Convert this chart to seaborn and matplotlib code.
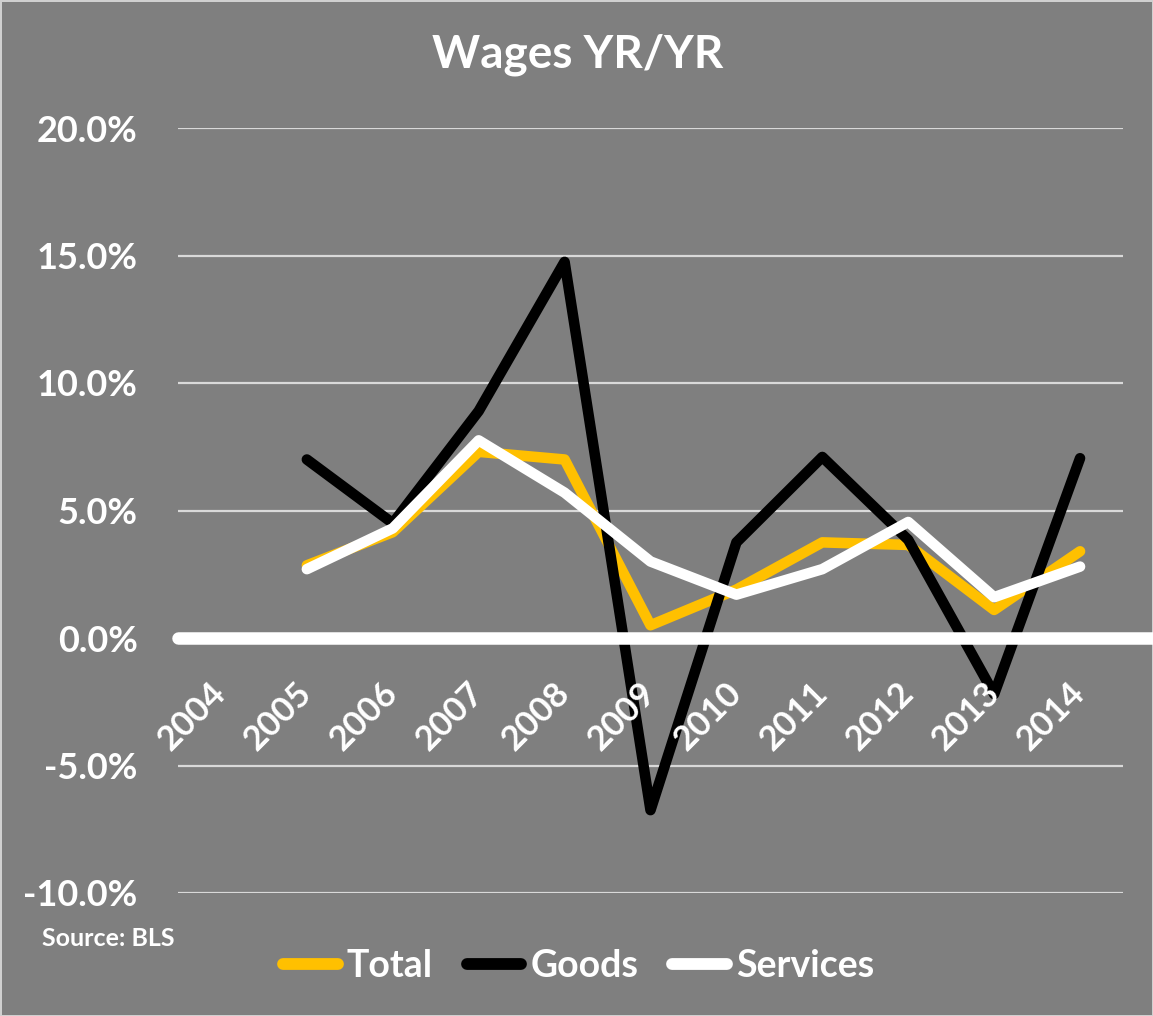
import matplotlib
matplotlib.use("Agg")
import matplotlib.pyplot as plt
from matplotlib.lines import Line2D
import numpy as np
import pandas as pd
import seaborn as sns

# --- data (% yr/yr) ---
years = ["2004", "2005", "2006", "2007", "2008", "2009", "2010", "2011", "2012", "2013", "2014"]
total = [np.nan, 2.85, 4.15, 7.3, 7.0, 0.5, 1.9, 3.75, 3.65, 1.1, 3.4]
goods = [np.nan, 7.0, 4.5, 8.9, 14.75, -6.75, 3.75, 7.1, 3.85, -2.2, 7.05]
services = [np.nan, 2.7, 4.3, 7.75, 5.7, 3.0, 1.7, 2.7, 4.55, 1.6, 2.8]
y_ticks = [-10, -5, 0, 5, 10, 15, 20]

series_names = ["Total", "Goods", "Services"]
palette = {"Total": "#FFC000", "Goods": "#000000", "Services": "#FFFFFF"}
BG = "#7F7F7F"

df = pd.concat(
    [
        pd.DataFrame({"x": np.arange(len(years)), "value": vals, "series": name})
        for name, vals in zip(series_names, [total, goods, services])
    ],
    ignore_index=True,
)

sns.set_theme(style="white")
plt.rcParams["font.family"] = ["Lato", "DejaVu Sans"]
plt.rcParams["font.weight"] = "bold"

fig = plt.figure(figsize=(11.53, 10.16), dpi=100, facecolor=BG)
fig.patch.set_edgecolor("#D0D0D0")
fig.patch.set_linewidth(2)
ax = fig.add_axes([178 / 1153, 1 - 893 / 1016, 945 / 1153, 765 / 1016])
ax.set_facecolor(BG)

# gridlines
for t in y_ticks:
    ax.axhline(t, color="#D9D9D9", lw=1.6, zorder=0)

sns.lineplot(
    data=df, x="x", y="value", hue="series", hue_order=series_names,
    palette=palette, linewidth=7.6, legend=False, ax=ax,
    solid_capstyle="round", solid_joinstyle="round", zorder=3,
)

# zero axis line sits on top of the series and runs to the right edge
ax.axhline(0, xmin=0, xmax=(1153 - 178) / 945, color="white", lw=9,
           clip_on=False, zorder=4)

ax.set_xlim(-0.5, len(years) - 0.5)
ax.set_ylim(-10, 20)
ax.set_yticks(y_ticks)
ax.set_yticklabels([f"{t:.1f}%" for t in y_ticks])
ax.tick_params(axis="y", length=0, pad=29, labelsize=26, labelcolor="white")

ax.spines["bottom"].set_position(("data", 0))
for s in ax.spines.values():
    s.set_visible(False)
ax.set_xticks(np.arange(len(years)))
ax.set_xticklabels(years)
ax.tick_params(axis="x", length=0, pad=36, labelsize=25, labelcolor="white")
ax.xaxis.set_zorder(5)
for lab in ax.get_xticklabels():
    lab.set_rotation(45)
    lab.set_ha("right")
    lab.set_va("center")
    lab.set_rotation_mode("anchor")
    lab.set_fontweight("bold")
for lab in ax.get_yticklabels():
    lab.set_fontweight("bold")
ax.set_xlabel("")
ax.set_ylabel("")

fig.text(0.501, 1 - 55 / 1016, "Wages YR/YR", ha="center", va="center",
         fontsize=33, fontweight="bold", color="white")
fig.text(42 / 1153, 1 - 938 / 1016, "Source: BLS", ha="left", va="center",
         fontsize=18, fontweight="bold", color="white")

handles = [Line2D([], [], color=palette[n], lw=8.5, solid_capstyle="round") for n in series_names]
fig.legend(
    handles, series_names, loc="center", bbox_to_anchor=(0.502, 1 - 966 / 1016),
    ncol=3, frameon=False, handlelength=1.45, handletextpad=0.25,
    columnspacing=0.9, labelcolor="white", prop={"weight": "bold", "size": 27},
)

fig.savefig("out.png", dpi=100, facecolor=BG, edgecolor=fig.patch.get_edgecolor())
